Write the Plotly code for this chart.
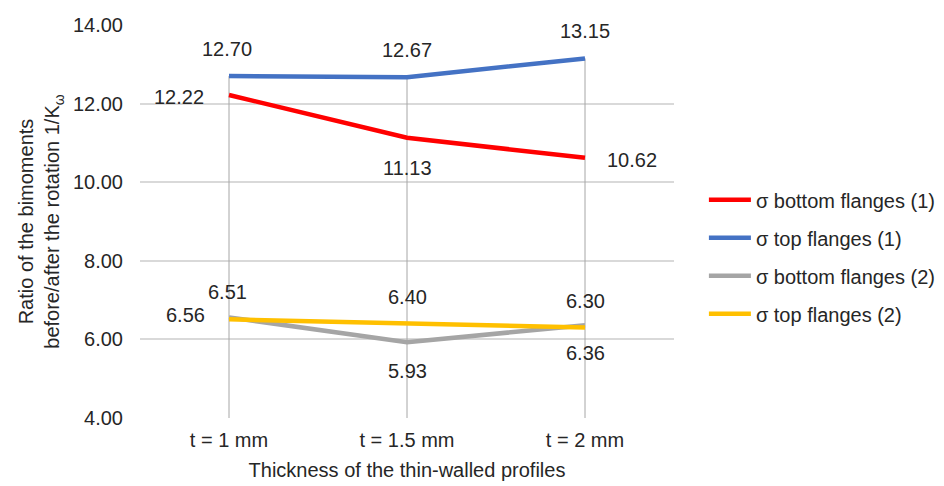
import plotly.graph_objects as go

categories = ["t = 1 mm", "t = 1.5 mm", "t = 2 mm"]
bottom1 = [12.22, 11.13, 10.62]
top1 = [12.70, 12.67, 13.15]
bottom2 = [6.56, 5.93, 6.36]
top2 = [6.51, 6.40, 6.30]

# label placement per point: (xshift, yshift) in pixels
series = [
    ("σ bottom flanges (1)", bottom1, "#FF0000", [(-50, -2), (0, -30), (47, -2)]),
    ("σ top flanges (1)", top1, "#4472C4", [(-2, 27), (0, 27), (0, 27)]),
    ("σ bottom flanges (2)", bottom2, "#A5A5A5", [(-44, 2), (0, -29), (0, -28)]),
    ("σ top flanges (2)", top2, "#FFC000", [(-2, 27), (0, 27), (0, 27)]),
]

FONT = "Liberation Sans, Arial, sans-serif"
TXT = "#262626"

fig = go.Figure()

# drop lines from the highest value of each category to the axis bottom
ymin = 4
dx, dy = [], []
for i, c in enumerate(categories):
    m = max(bottom1[i], top1[i], bottom2[i], top2[i])
    dx += [c, c, None]
    dy += [ymin, m, None]
fig.add_trace(go.Scatter(x=dx, y=dy, mode="lines", line=dict(color="#A6A6A6", width=1),
                         showlegend=False, hoverinfo="skip"))

annotations = []
for i, (name, vals, col, shifts) in enumerate(series):
    fig.add_trace(go.Scatter(
        x=categories, y=vals, name=name, mode="lines",
        line=dict(color=col, width=4.5),
        legendgroup=f"g{i}",
    ))
    for c, v, (sx, sy) in zip(categories, vals, shifts):
        annotations.append(dict(x=c, y=v, text=f"{v:.2f}", showarrow=False,
                                xanchor="center", yanchor="middle",
                                xshift=sx, yshift=sy,
                                font=dict(size=20, color=TXT, family=FONT)))

fig.update_layout(
    width=944, height=486,
    margin=dict(l=140, r=270, t=25, b=68, autoexpand=False),
    paper_bgcolor="white", plot_bgcolor="white",
    font=dict(family=FONT, size=20, color=TXT),
    showlegend=True,
    annotations=annotations,
    legend=dict(x=1.056, y=0.41, xanchor="left", yanchor="middle",
                font=dict(size=20, color=TXT), tracegroupgap=9, itemwidth=42),
    xaxis=dict(type="category", range=[-0.5, 2.5], showgrid=False, showline=False,
               automargin=False,
               ticks="", tickfont=dict(size=20, color=TXT), ticklabelstandoff=8,
               title=dict(text="Thickness of the thin-walled profiles",
                          font=dict(size=20, color=TXT), standoff=12)),
    yaxis=dict(range=[4, 14], dtick=2, tickformat=".2f", showgrid=True,
               automargin=False,
               gridcolor="#D9D9D9", gridwidth=1.5, zeroline=False, showline=False,
               tickfont=dict(size=20, color=TXT), ticks="",
               ticklabelstandoff=16,
               title=dict(text="Ratio of the bimoments<br>before/after the rotation 1/K<sub>ω</sub>",
                          font=dict(size=20, color=TXT), standoff=7)),
)

fig.write_html("out.html")
